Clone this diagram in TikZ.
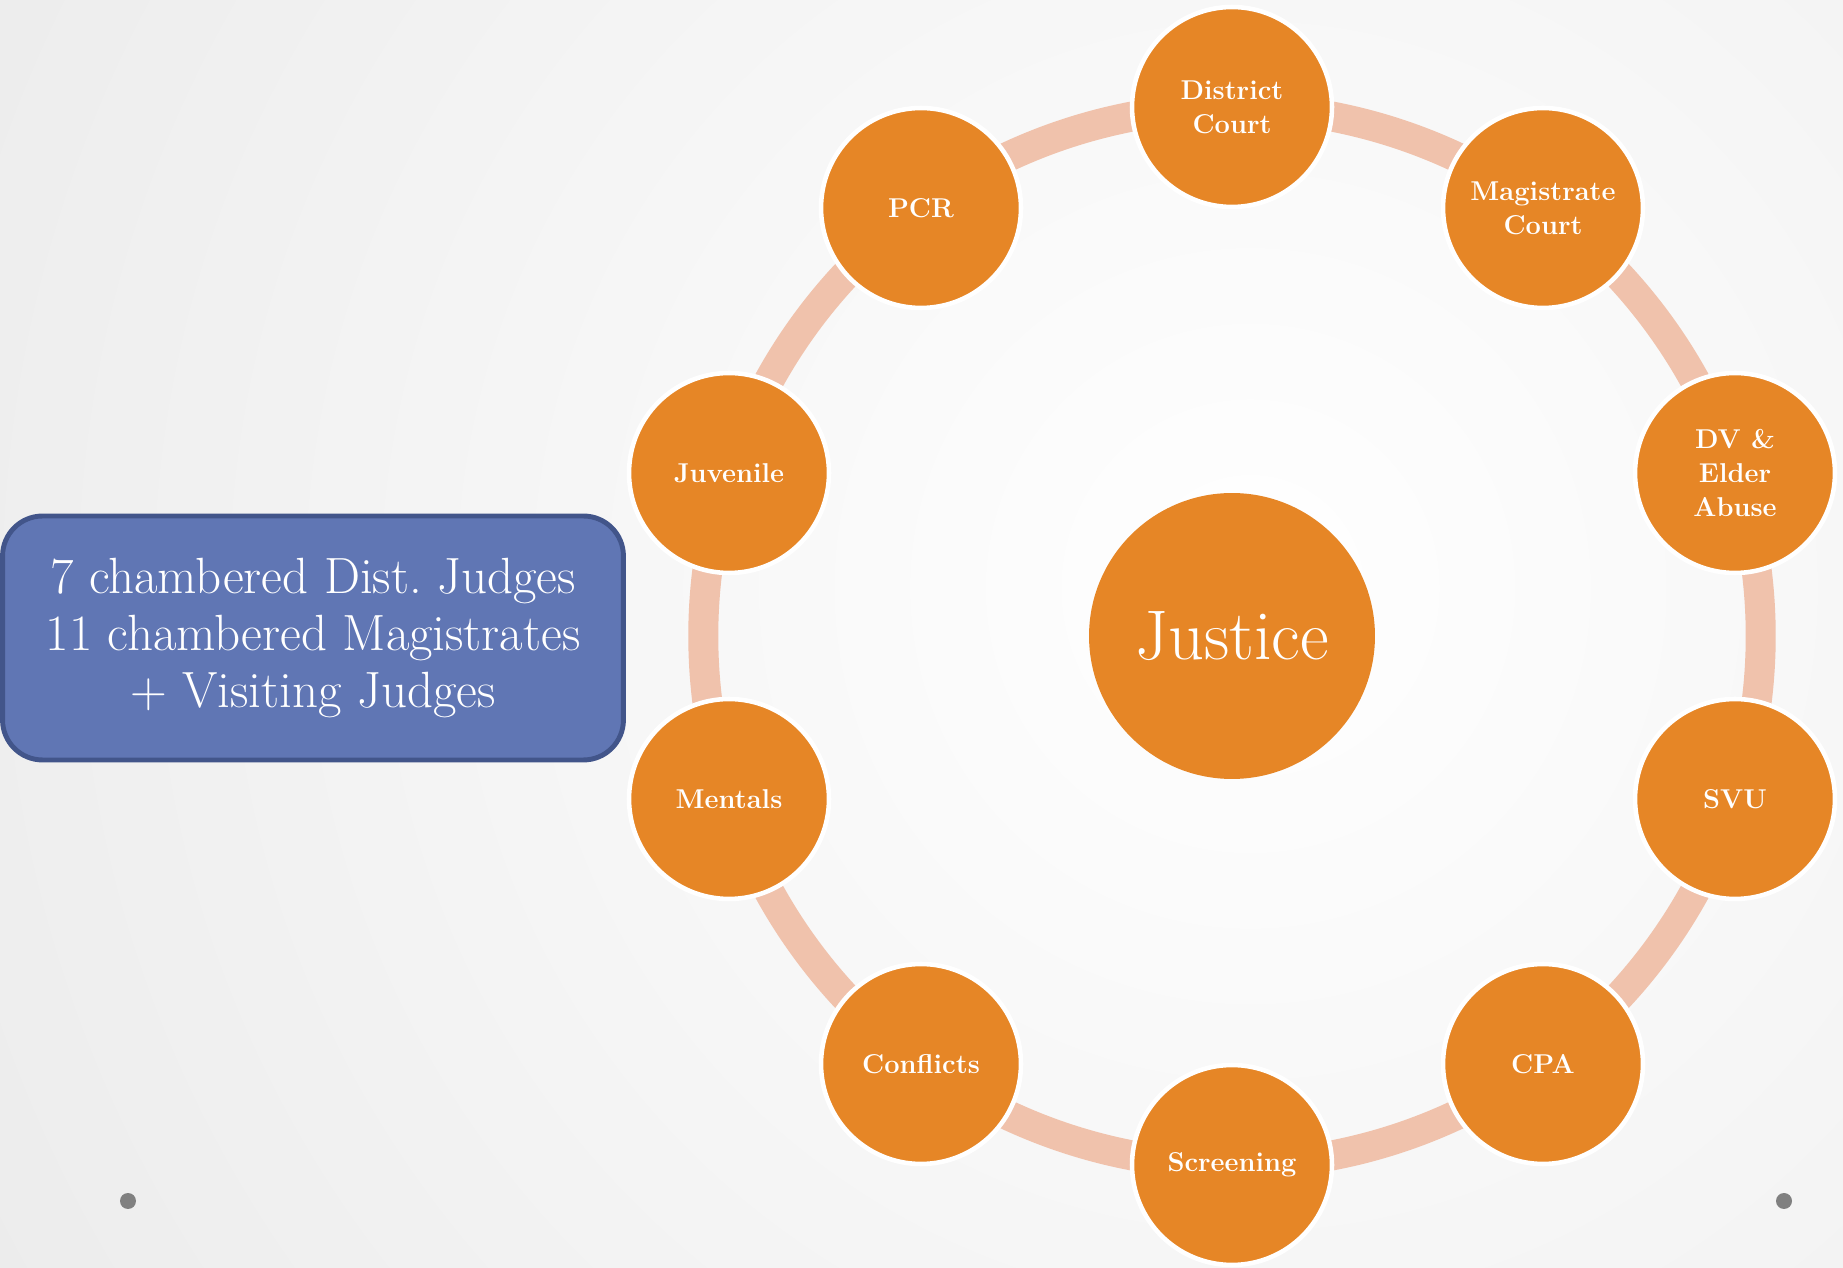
\documentclass[tikz,border=0pt]{standalone}
\usepackage{tikz}
\usetikzlibrary{arrows,%
                shapes,positioning}
\definecolor{ringorange}{RGB}{230,134,38}
\definecolor{linkpeach}{RGB}{240,194,172}
\definecolor{boxblue}{RGB}{96,118,180}
\definecolor{boxedge}{RGB}{66,85,138}
\definecolor{dotgray}{RGB}{128,128,128}
\pgfdeclarelayer{bg}
\pgfdeclarelayer{links}
\pgfsetlayers{bg,links,main}
\tikzstyle{area}=[circle,fill=ringorange,draw=white,line width=2.6pt,minimum size=4cm,inner sep=0pt,text=white,align=center,font=\fontsize{15.5}{19.3}\selectfont\bfseries]
\tikzstyle{hub}=[circle,fill=ringorange,minimum size=5.72cm,inner sep=0pt,text=white,font=\fontsize{40}{46}\selectfont]
\tikzstyle{link}=[draw=linkpeach,line width=0.6cm,bend left=18,looseness=0.873]
\tikzstyle{info}=[rectangle,rounded corners=0.8cm,fill=boxblue,draw=boxedge,line width=2.8pt,minimum width=12.42cm,minimum height=4.88cm,text=white,align=center,font=\fontsize{29}{32.5}\selectfont]
\tikzstyle{bullet}=[circle,fill=dotgray,minimum size=0.32cm,inner sep=0pt]

\begin{document}
\begin{tikzpicture}[>=latex,line join=bevel,x=0.02cm,y=0.02cm]
	  \useasboundingbox (0,0) rectangle (1843,1268);
	  \begin{pgfonlayer}{bg}
	    \fill [gray!28] (0,0) rectangle (1843,1268);
	    \begin{scope}
	      \clip (0,0) rectangle (1843,1268);
	      \shade [inner color=white,outer color=gray!28] (1250,680) circle (2700);
	    \end{scope}
	  \end{pgfonlayer}
	  \node (just) at (1232,632) [hub] {Justice};
	  \node (dist) at (1232,1161) [area] {District\\Court};
	  \node (mag) at (1543,1060) [area] {Magistrate\\Court};
	  \node (dv) at (1735,795) [area] {DV \&\\Elder\\Abuse};
	  \node (svu) at (1735,469) [area] {SVU};
	  \node (cpa) at (1543,204) [area] {CPA};
	  \node (scr) at (1232,103) [area] {Screening};
	  \node (conf) at (921,204) [area] {Conflicts};
	  \node (ment) at (729,469) [area] {Mentals};
	  \node (juv) at (729,795) [area] {Juvenile};
	  \node (pcr) at (921,1060) [area] {PCR};
	  \node (judges) at (313,630) [info] {7 chambered Dist.\ Judges\\11 chambered Magistrates\\+ Visiting Judges};
	  \node (dotl) at (128,67) [bullet] {};
	  \node (dotr) at (1784,67) [bullet] {};
	  \begin{pgfonlayer}{links}
	    \draw [link] (dist.center) to (mag.center);
	    \draw [link] (mag.center) to (dv.center);
	    \draw [link] (dv.center) to (svu.center);
	    \draw [link] (svu.center) to (cpa.center);
	    \draw [link] (cpa.center) to (scr.center);
	    \draw [link] (scr.center) to (conf.center);
	    \draw [link] (conf.center) to (ment.center);
	    \draw [link] (ment.center) to (juv.center);
	    \draw [link] (juv.center) to (pcr.center);
	    \draw [link] (pcr.center) to (dist.center);
	  \end{pgfonlayer}
    %
    \end{tikzpicture}
\end{document}
